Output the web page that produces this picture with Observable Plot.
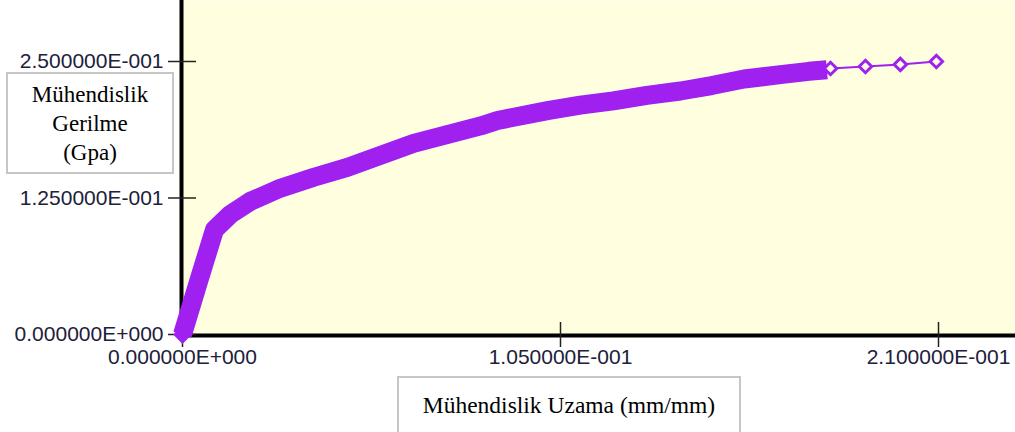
<!DOCTYPE html>
<html><head><meta charset="utf-8">
<script src="https://cdn.jsdelivr.net/npm/d3@7"></script>
<script src="https://cdn.jsdelivr.net/npm/@observablehq/plot@0.6"></script>
<style>
body{margin:0;background:#fff;}
#wrap{position:relative;width:1015px;height:432px;overflow:hidden;}
.box{position:absolute;background:#fff;border:2px solid #c6c6c6;box-sizing:border-box;
 font-family:"Liberation Serif","Times New Roman",serif;font-size:23px;color:#000;text-align:center;
 display:flex;flex-direction:column;justify-content:center;align-items:center;}
#ytitle{left:6px;top:72px;width:168px;height:102px;line-height:29px;}
#xtitle{left:397px;top:376px;width:344px;height:58px;font-size:23.5px;}
</style></head><body>
<div id="wrap"></div>
<script>
// Dense measured series (engineering strain, engineering stress)
const strain = [0, 0.0045, 0.0089, 0.0133, 0.0189, 0.0272, 0.0365, 0.0458, 0.0550, 0.0642, 0.0735, 0.0828, 0.0875, 0.0920, 0.1014, 0.1105, 0.1197, 0.1290, 0.1383, 0.1470, 0.1560, 0.1661, 0.1740, 0.1790];
const stress = [0, 0.049, 0.096, 0.110, 0.122, 0.134, 0.144, 0.153, 0.164, 0.175, 0.183, 0.191, 0.196, 0.199, 0.205, 0.210, 0.214, 0.219, 0.223, 0.228, 0.234, 0.238, 0.241, 0.2425];
// Last sparse points (hollow diamonds)
const tailStrain = [0.1800, 0.1897, 0.1994, 0.2094];
const tailStress = [0.2436, 0.2454, 0.2473, 0.2500];
// Axes
const xTicks = [0, 0.105, 0.21];
const xTickLabels = ["0.000000E+000", "1.050000E-001", "2.100000E-001"];
const yTicks = [0, 0.125, 0.25];
const yTickLabels = ["0.000000E+000", "1.250000E-001", "2.500000E-001"];
const yTitleLines = ["Mühendislik", "Gerilme", "(Gpa)"];
const xTitle = "Mühendislik Uzama (mm/mm)";

const purple = "#A020F0";
const bg = "#FFFFE0";
const labelColor = "#20203a";

const dense = strain.map((x, i) => ({x, y: stress[i]}));
const tail = tailStrain.map((x, i) => ({x, y: tailStress[i]}));
const tailLine = [dense[dense.length - 1], ...tail];

const chart = Plot.plot({
  width: 1015,
  height: 432,
  marginLeft: 182,
  marginRight: 0,
  marginTop: 0,
  marginBottom: 98,
  style: {fontFamily: "'Liberation Sans', Arial, sans-serif", fontSize: "21px", background: "transparent"},
  x: {domain: [0, 833 / 3600], axis: null},
  y: {domain: [0, 334 / 1092], axis: null},
  marks: [
    Plot.frame({fill: bg, stroke: null}),
    Plot.ruleX([0], {stroke: "#000", strokeWidth: 4, dx: -1}),
    Plot.ruleY([0], {stroke: "#000", strokeWidth: 4, dy: 1, insetLeft: -3}),
    Plot.axisX(xTicks, {tickSize: 25, dy: -12, fill: "none", stroke: "#222", strokeWidth: 1.5, label: null}),
    Plot.axisX(xTicks, {tickSize: 0, tickPadding: 15, fill: labelColor, label: null,
      tickFormat: d => xTickLabels[xTicks.indexOf(d)]}),
    Plot.axisY(yTicks, {tickSize: 28, dx: 14, fill: "none", stroke: "#222", strokeWidth: 1.5, label: null}),
    Plot.axisY(yTicks, {tickSize: 0, tickPadding: 19, fill: labelColor, label: null,
      tickFormat: d => yTickLabels[yTicks.indexOf(d)]}),
    Plot.line(dense, {x: "x", y: "y", stroke: purple, strokeWidth: 19, strokeLinejoin: "round", strokeLinecap: "butt"}),
    Plot.dot(dense.slice(0, 1), {x: "x", y: "y", symbol: "diamond2", r: 7.5, fill: purple, stroke: purple}),
    Plot.line(tailLine, {x: "x", y: "y", stroke: purple, strokeWidth: 2}),
    Plot.dot(tail, {x: "x", y: "y", symbol: "diamond2", r: 5.6, fill: bg, stroke: purple, strokeWidth: 3})
  ]
});

const wrap = document.getElementById("wrap");
wrap.appendChild(chart);
const yt = document.createElement("div");
yt.className = "box"; yt.id = "ytitle";
yTitleLines.forEach(t => { const d = document.createElement("div"); d.textContent = t; yt.appendChild(d); });
wrap.appendChild(yt);
const xt = document.createElement("div");
xt.className = "box"; xt.id = "xtitle";
xt.textContent = xTitle;
wrap.appendChild(xt);
</script>
</body></html>
